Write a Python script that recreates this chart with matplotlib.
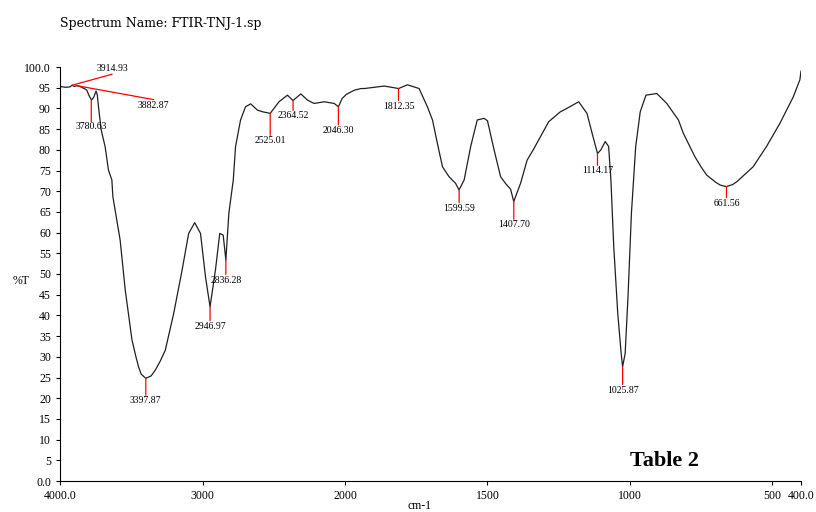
import numpy as np
import matplotlib
matplotlib.use("Agg")
import matplotlib.pyplot as plt

# spectrum (wavenumber cm-1, %T)
wavenumber = [4000, 3960, 3930, 3915, 3900, 3883, 3860, 3830, 3812, 3795, 3778, 3762,
              3747, 3738, 3730, 3711, 3683, 3660, 3636, 3629, 3578, 3542, 3495, 3470,
              3449, 3430, 3398, 3360, 3331, 3296, 3261, 3202, 3143, 3097, 3055, 3014,
              2979, 2947, 2909, 2879, 2855, 2836, 2815, 2784, 2768, 2733, 2698, 2662,
              2615, 2580, 2525, 2463, 2404, 2365, 2310, 2263, 2217, 2146, 2076, 2046,
              2020, 1995, 1967, 1944, 1932, 1862, 1812, 1781, 1740, 1711, 1693, 1676,
              1658, 1635, 1612, 1600, 1582, 1559, 1536, 1512, 1500, 1477, 1454, 1436,
              1419, 1408, 1384, 1361, 1337, 1314, 1285, 1244, 1232, 1180, 1151, 1133,
              1114, 1102, 1087, 1075, 1067, 1057, 1043, 1031, 1026, 1017, 1007, 995,
              980, 964, 944, 906, 871, 830, 813, 772, 750, 731, 700, 684, 662, 640,
              625, 568, 521, 474, 427, 404, 400]
transmittance = [95.3, 95.1, 95.2, 95.6, 95.3, 95.5, 95.3, 94.8, 94.4, 93.0, 92.0, 92.8,
                 94.2, 93.2, 90.4, 84.8, 80.7, 75.1, 72.7, 68.7, 58.2, 46.1, 34.1, 30.4,
                 27.6, 25.8, 24.8, 25.4, 26.8, 29.0, 31.6, 40.5, 51.0, 59.8, 62.4, 59.8,
                 49.3, 42.1, 51.0, 59.8, 59.4, 53.4, 64.7, 72.7, 80.8, 87.2, 90.4, 91.1,
                 89.6, 89.2, 88.8, 91.6, 93.2, 91.9, 93.5, 92.0, 91.2, 91.6, 91.2, 90.4,
                 92.4, 93.4, 94.4, 94.8, 94.8, 95.4, 94.8, 95.7, 94.8, 90.4, 87.2, 81.6,
                 75.9, 73.5, 71.9, 70.3, 72.7, 80.8, 87.2, 87.6, 87.0, 80.0, 73.5, 71.8,
                 70.5, 67.5, 71.9, 77.5, 80.3, 83.2, 86.8, 89.2, 89.6, 91.6, 88.8, 84.0,
                 79.1, 80.0, 82.0, 80.8, 72.7, 56.6, 40.5, 30.8, 27.6, 30.8, 44.5, 64.7,
                 80.8, 89.2, 93.2, 93.6, 91.2, 87.2, 84.0, 78.3, 75.8, 73.9, 72.2, 71.5,
                 71.1, 71.6, 72.3, 75.9, 80.8, 86.4, 92.8, 96.9, 99.0]

peaks = [3914.93, 3882.87, 3780.63, 3397.87, 2946.97, 2836.28, 2525.01, 2364.52,
         2046.30, 1812.35, 1599.59, 1407.70, 1114.17, 1025.87, 661.56]

xticks = [4000, 3000, 2000, 1500, 1000, 500, 400]
xticklabels = ["4000.0", "3000", "2000", "1500", "1000", "500", "400.0"]
yticks = list(range(0, 101, 5))
yticklabels = ["0.0"] + [str(v) for v in yticks[1:-1]] + ["100.0"]

# length of red marker line below each peak (pixels)
drops = [None, None, 22, 17, 14, 15, 22, 10, 18, 12, 13, 18, 12, 18, 11]


def fwd(x):
    x = np.asarray(x, float)
    return np.where(x > 2000, 2000 + (x - 2000) / 2, x)


def inv(t):
    t = np.asarray(t, float)
    return np.where(t > 2000, 2000 + (t - 2000) * 2, t)


fig = plt.figure(figsize=(8.16, 5.12), dpi=100)
ax = fig.add_axes([60 / 816, 31 / 512, 741 / 816, 414 / 512])
ax.set_xscale("function", functions=(fwd, inv))

ax.plot(wavenumber, transmittance, color="#202020", lw=0.9)

ax.set_xlim(4000, 400)
ax.set_ylim(0, 100)

ax.set_xticks(xticks)
ax.set_xticklabels(xticklabels)
ax.set_yticks(yticks)
ax.set_yticklabels(yticklabels)
ax.minorticks_off()
ax.tick_params(direction="out", length=3, width=0.8, labelsize=8.5)
for lab in ax.get_xticklabels() + ax.get_yticklabels():
    lab.set_family("Liberation Serif")
for s in ["top", "right"]:
    ax.spines[s].set_visible(False)
ax.spines["left"].set_linewidth(0.8)
ax.spines["bottom"].set_linewidth(0.8)

wn_sorted = wavenumber[::-1]
tr_sorted = transmittance[::-1]
lab_kw = dict(fontsize=7, family="Liberation Serif", color="black")
for p, d in zip(peaks, drops):
    if d is None:
        continue
    t = np.interp(p, wn_sorted, tr_sorted)
    ax.annotate("", xy=(p, t), xytext=(0, -d), textcoords="offset pixels",
                arrowprops=dict(arrowstyle="-", color="red", lw=0.9,
                                shrinkA=0, shrinkB=0))
    ax.annotate(f"{p:.2f}", xy=(p, t), xytext=(0, -d - 1), textcoords="offset pixels",
                ha="center", va="top", **lab_kw)

# the two crowded peaks near 3900 use slanted leader lines
t1 = np.interp(peaks[0], wn_sorted, tr_sorted)
ax.annotate("", xy=(peaks[0], t1), xytext=(40, 11), textcoords="offset pixels",
            arrowprops=dict(arrowstyle="-", color="red", lw=0.9, shrinkA=0, shrinkB=0))
ax.annotate(f"{peaks[0]:.2f}", xy=(peaks[0], t1), xytext=(40, 12),
            textcoords="offset pixels", ha="center", va="bottom", **lab_kw)
t2 = np.interp(peaks[1], wn_sorted, tr_sorted)
ax.annotate("", xy=(peaks[1], t2), xytext=(77, -14), textcoords="offset pixels",
            arrowprops=dict(arrowstyle="-", color="red", lw=0.9, shrinkA=0, shrinkB=0))
ax.annotate(f"{peaks[1]:.2f}", xy=(peaks[1], t2), xytext=(77, -15),
            textcoords="offset pixels", ha="center", va="top", **lab_kw)

fig.text(60 / 816, 1 - 23 / 512, "Spectrum Name: FTIR-TNJ-1.sp",
         family="DejaVu Serif", fontsize=9, va="center")
fig.text(21 / 816, 1 - 281 / 512, "%T", family="Liberation Serif",
         fontsize=8.5, ha="center", va="center")
fig.text(420 / 816, 1 - 506 / 512, "cm-1", family="Liberation Serif",
         fontsize=8.5, ha="center", va="center")
fig.text(665 / 816, 1 - 461 / 512, "Table 2", family="Liberation Serif",
         fontweight="bold", fontsize=16, ha="center", va="center")

fig.savefig("out.png", dpi=100)
